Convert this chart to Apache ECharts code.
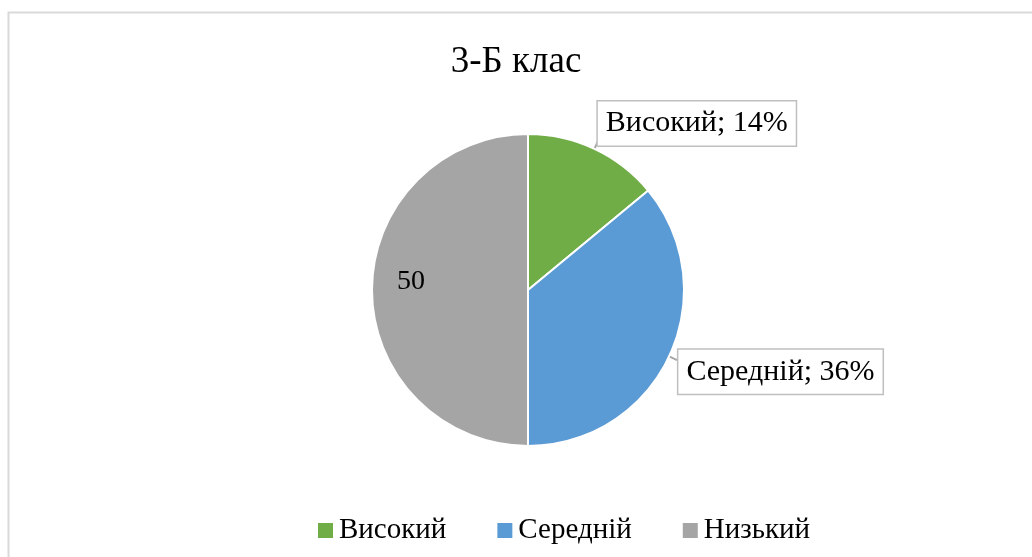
<!DOCTYPE html>
<html>
<head>
<meta charset="utf-8">
<script src="https://cdn.jsdelivr.net/npm/echarts@6/dist/echarts.min.js"></script>
<style>
  html, body { margin: 0; padding: 0; background: #fff; }
  #chart { width: 1032px; height: 557px; }
</style>
</head>
<body>
<div id="chart"></div>
<script>
// дані діаграми
const categories = ['Високий', 'Середній', 'Низький'];
const values = [14, 36, 50];
const colors = ['#70ad47', '#5b9bd5', '#a5a5a5'];

const serif = '"Liberation Serif", "DejaVu Serif", serif';

const boxLabel = {
  show: true,
  position: 'outside',
  formatter: '{b}; {d}%',
  fontFamily: serif,
  fontSize: 30,
  lineHeight: 32,
  color: '#000',
  backgroundColor: '#fff',
  borderColor: '#bfbfbf',
  borderWidth: 1.5,
  padding: [7, 8, 5, 8]
};

const chart = echarts.init(document.getElementById('chart'));

chart.setOption({
  animation: false,
  title: {
    text: '3-Б клас',
    left: 'center',
    top: 39,
    textStyle: { fontFamily: serif, fontSize: 37, fontWeight: 'normal', color: '#000' }
  },
  legend: {
    data: categories,
    left: 313,
    top: 511,
    icon: 'rect',
    itemWidth: 15,
    itemHeight: 15,
    itemGap: 51,
    itemStyle: { borderWidth: 0 },
    textStyle: { fontFamily: serif, fontSize: 29, color: '#000', padding: [0, 0, 0, 1] }
  },
  graphic: [{
    type: 'rect',
    shape: { x: 8.5, y: 12.5, width: 1100, height: 700 },
    style: { fill: 'none', stroke: '#d9d9d9', lineWidth: 2 },
    silent: true
  }],
  series: [{
    type: 'pie',
    center: [528, 290],
    radius: 156,
    startAngle: 90,
    clockwise: true,
    itemStyle: { borderColor: '#fff', borderWidth: 2 },
    labelLine: { show: true, length: 8, length2: 30, lineStyle: { color: '#a6a6a6', width: 2 } },
    labelLayout: function (p) {
      if (p.dataIndex === 0) return { dx: -35, dy: -18 };
      if (p.dataIndex === 1) return { dx: -33, dy: 12 };
      return { dx: -36, dy: -8 };
    },
    data: categories.map((name, i) => {
      const item = { name: name, value: values[i], itemStyle: { color: colors[i] } };
      if (i === 2) {
        item.label = {
          show: true, position: 'inside', formatter: '{c}',
          fontFamily: serif, fontSize: 28, color: '#000'
        };
        item.labelLine = { show: false };
      } else {
        item.label = boxLabel;
      }
      return item;
    })
  }]
});
</script>
</body>
</html>
